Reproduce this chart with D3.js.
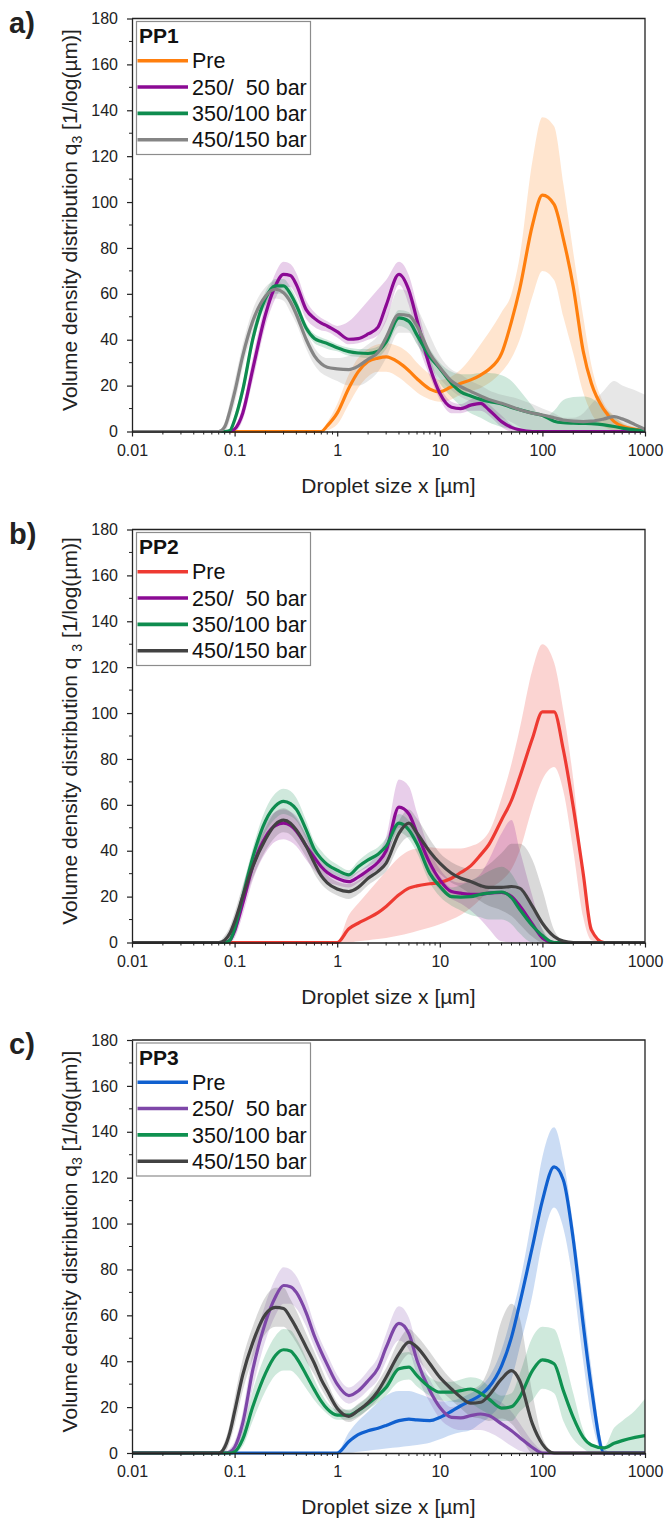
<!DOCTYPE html>
<html><head><meta charset="utf-8">
<script src="https://cdn.jsdelivr.net/npm/d3@7"></script>
<style>
html,body{margin:0;padding:0;background:#fff}
svg{display:block}
text{font-family:"Liberation Sans",Arial,Helvetica,sans-serif}
</style>
</head><body>
<svg id="c" width="667" height="1519"></svg>
<script>
// ---------- DATA ----------
// droplet size grid [µm]
const X = [0.01,0.07,0.08,0.09,0.1,0.12,0.15,0.2,0.25,0.3,0.35,0.4,0.5,0.6,0.7,0.8, 1,1.3,1.6,2,2.5,3,4,5,6,8, 10,13,16,20,25,30,40,50,60,80, 100,130,160,200,250,300,400,500,600,800,1000];

const seriesNames = ["Pre","250/  50 bar","350/100 bar","450/150 bar"];
const legendTitles = ["PP1","PP2","PP3"];
const panelLabels = ["a)","b)","c)"];
const xTickValues = [0.01,0.1,1,10,100,1000];
const xTickLabels = ["0.01","0.1","1","10","100","1000"];
const yTickValues = [0,20,40,60,80,100,120,140,160,180];
const yTickLabels = ["0","20","40","60","80","100","120","140","160","180"];

// Panel a (PP1)
const aPre   = [0,0,0,0,0,0,0,0,0,0,0,0,0,0,0,2.5, 8,19,26,30.5,32,32.5,30,26.5,23,18.5, 17.3,19.5,21,22.5,24.6,27,34,48,62,90, 103,99,84,63,35,21,9.4,4.3,2.3,1,0.5];
const aPreLo = [0,0,0,0,0,0,0,0,0,0,0,0,0,0,0,0.5, 3,12,19,24,26,26,23.5,20,17,14, 13,14,16,17.5,19,21,26,32,40,59, 70,66,50,34,17,8,2,0.5,0,0,0];
const aPreHi = [0,0,0,0,0,0,0,0,0,0,0,0,0,0,0.5,4, 12,25,32,36,38,38.5,37,34,30,25, 22.5,24,27,32,38,43,52,60,76,118, 137,133,108,78,50,29,12,7,4,2,1];
const a250   = [0,0,0,0,1,8,27,51,63.5,68.5,68,64,53,49.3,47.2,46, 43.5,40.2,40.5,42.5,45.5,55,68.5,61.5,48.5,28, 16.7,10.6,10,11.5,12.3,9.5,4.3,1.8,0.7,0, 0,0,0,0,0,0,0,0,0,0,0];
const a250Lo = [0,0,0,0,0,5,22,46,58,63,63,59,49,45.5,44,43.5, 41,38,38.5,40,42,48,64,55,40,24, 14,8,8,9,9,7,2,0,0,0, 0,0,0,0,0,0,0,0,0,0,0];
const a250Hi = [0,0,0,0,2,11,32,56,69,74,73,69,57,52,49.5,48, 46,48,52,57,62,66,74,68,55,33, 20,13,12,14,15,12,7,3,1,0, 0,0,0,0,0,0,0,0,0,0,0];
const a350   = [0,0,0,0.5,5,18,40,58,63.5,63.5,60,55,45,40.5,39.2,38.4, 36.5,34.8,34.2,34,35,39,49.5,48,42,32.6, 27.5,21,17.3,15.5,14,13.1,12,10.5,9.5,8, 7,4.5,3.8,3.6,3.5,3.4,2.9,2.2,1.5,0.7,0.3];
const a350Lo = [0,0,0,0,3,15,37,55,60,60,57,52,43,38.5,37,36, 35,33,32.5,32,32.5,36,46,44,38,29, 21,15,11,8,6,4,2,1,0,0, 0,0,0,0,0,0,0,0,0,0,0];
const a350Hi = [0,0,0,1,7,21,43,61,66.5,66.5,63,58,47,42.5,41,40, 38,36.5,36,36,37,42,53,52,46,36, 30,26,25,25,25.5,25.5,24.5,22,18,11, 6,9,13.7,15,15.3,14.5,10,6.5,3.5,1.5,0.5];
const a450   = [0,0,2,9,17,33,48,59,62,60.5,56.5,51,40,33,29.5,28, 27.3,27,28.5,31.5,34.5,41,51,50.5,46,34, 28,22,19.5,17.5,15.5,14,12.3,10.8,9.5,8, 7.2,6,5,4.5,4.3,4.5,5.5,6.5,5.5,3,1];
const a450Lo = [0,0,0,5,12,28,43,55,58,57,52,47,36,29,25.5,24, 22,20,20,22,26,32,43,43,38,29, 23,18,15,13,11,9,6,4,2,0, 0,0,0,0,0,0,0,0,0,0,0];
const a450Hi = [0,0.5,4,13,22,38,53,63,65.5,64,60,55,44,36.5,33,32, 32,33,35,38,42,49,62,61,54,42, 33,27,25,22,20,18,16,15,14,12, 10,8,6,6,8,12,18,22,20,18,16];

// Panel b (PP2)
const bPre   = [0,0,0,0,0,0,0,0,0,0,0,0,0,0,0,0, 0,6,8.4,10.6,13,15.7,20.8,23.7,24.7,25.6, 26.1,28,30.5,33.4,38.2,42.6,53.4,62,72,89, 100.5,100.5,84,59,30,5.5,0,0,0,0,0];
const bPreLo = [0,0,0,0,0,0,0,0,0,0,0,0,0,0,0,0, 0,0,0.5,1,1.5,2,3,4,5,6.5, 8,10,12,15,19,23,27,32,40,59, 71,76.5,66,40,11,1,0,0,0,0,0];
const bPreHi = [0,0,0,0,0,0,0,0,0,0,0,0,0,0,0,0, 0.5,12,17,22,27,31,37,40,41,41.5, 41,41,41,42,44,48,63,78,93,119, 130,122,101,71,30,8,0,0,0,0,0];
const b250   = [0,0,0,1,5,17,33,46,51,52,51,48.5,42,37,33,30.5, 28,26.5,28.5,31.5,35,40,59,56,47.6,34.6, 27.3,22.2,21.5,21,21,21.5,21.8,20,16,8, 2,0,0,0,0,0,0,0,0,0,0];
const b250Lo = [0,0,0,0,2,12,27,39,44,45,44,42,36,31.5,28.5,26.5, 25,24,26,29,32,36,50,50,42,29, 23,19,17,14,10,6,0.5,0,0,0, 0,0,0,0,0,0,0,0,0,0,0];
const b250Hi = [0,0,0.5,2.5,8,21,38,52,57,58,57,55,47,41,36,33.5, 30.5,29,31,34,39,46,71,68,56.5,40, 32,27,26,27,30,36,47.6,53.4,40.4,20, 5.5,0,0,0,0,0,0,0,0,0,0];
const b350   = [0,0,0,1,6,20,37,53,59.5,61.5,60.5,58,49,40.5,36.5,34, 31.5,29.5,33,36,38.5,42,52,49,43,30, 24.5,20,19.8,20,21,21.5,22,19.5,14.5,7.3, 3,0,0,0,0,0,0,0,0,0,0];
const b350Lo = [0,0,0,0,3,16,33,48,54,56,55,53,45,37,33.5,31, 29,27.5,30.5,33,35.5,38.5,48,45,39,26, 20,16,14,12,11,10,10,8,4,0, 0,0,0,0,0,0,0,0,0,0,0];
const b350Hi = [0,0,0.5,3,9,24,41,58,65,67,66,63,53,44,40,37, 34,31.5,35.5,39,41.5,45.5,56,53,47,34, 29,24,25,27,29,31,33,30,24,15, 6,0,0,0,0,0,0,0,0,0,0];
const b450   = [0,0,1,4,9,20,33,45,51.5,53.3,52,49,41.8,34.6,29,26, 23.3,22.2,24,28,31,34.6,47.6,52,47.6,39.6, 34.6,30.2,28,26.6,24.8,24,24,24.4,23.7,15.7, 8.4,2.6,0.6,0,0,0,0,0,0,0,0];
const b450Lo = [0,0,0,2,6,16,28,40,46,48,47,44,37,30,25.5,23, 20.5,19,21,25,28,31,42,46,42,34, 30,26,24,21,18,16,14,11.5,8,2.5, 0,0,0,0,0,0,0,0,0,0,0];
const b450Hi = [0,0.5,3,7,13,25,38,50,57,58.5,57,54,46.5,39,33,29.5, 26.5,25.5,27,31,34,38.5,53,58,54,45, 39,35,33,32,32,34,39,43,43,36, 23,5.5,1,0,0,0,0,0,0,0,0];

// Panel c (PP3)
const cPre   = [0,0,0,0,0,0,0,0,0,0,0,0,0,0,0,0, 0,5,8,9.7,10.8,12,14.1,14.8,14.4,14.1, 15.5,18.2,20.6,22.8,25.3,28.6,38,50.5,65,90, 110,124.7,119,93,56,28.6,0,0,0,0,0];
const cPreLo = [0,0,0,0,0,0,0,0,0,0,0,0,0,0,0,0, 0,0,0.5,1,1.5,2,2.5,3,3.5,4.5, 6,8,9,10,13,15.5,22,32,46,69, 92,107,98,74,40,15.5,0,0,0,0,0];
const cPreHi = [0,0,0,0,0,0,0,0,0,0,0,0,0,0,0,0, 0.5,9,14,18,22,25,27,27,26,24, 22.5,22.8,24,26,29,33,45,60,74,104, 129,142,128,99,66,37,2,0,0,0,0];
const c250   = [0,0,0,0.5,2.5,13,36,57,68,73,72.5,70,61,51,44,38.5, 30,25,27,31.5,37,46,56.5,52,40.3,27.2, 19.9,15.5,15.3,16.3,17,16.3,12.7,9.7,6.8,2.4, 0,0,0,0,0,0,0,0,0,0,0];
const c250Lo = [0,0,0,0,0.5,8,28,49,60,65,65,63,55,46,39.5,34, 26,21.5,23.5,27.5,32,40,49,45,34,22, 15,11,10,10,10,9,6,3,1,0, 0,0,0,0,0,0,0,0,0,0,0];
const c250Hi = [0,0,0.5,2,5,18,44,65,76,81,80,77,67,56,48.5,43, 34,28.5,31,36,42,52,64,59,46,32, 25,20,21,23,24,24,22,18,13,5, 1,0,0,0,0,0,0,0,0,0,0];
const c350   = [0,0,0,0,0.5,6,20,34.7,42.5,45,44.5,41.5,34,27.5,22.5,19.2, 16.5,16.5,18.5,21.5,25,28.6,36.7,37.4,33.7,28.6, 26.5,26.5,27.2,27.9,26,23.6,19.6,20.2,24.3,35.9, 40.6,38.9,27.2,15.5,6.8,3.5,2.2,4.2,5.4,6.8,7.6];
const c350Lo = [0,0,0,0,0,3,14,27,34,36,36,34,28,23,19.5,17, 14.5,14.5,16,19,22,25,31,32,29,25, 23,22.5,22,21.5,19,17,14,14,18,23, 28,26,14,6,2,0,0,0,0,0,0];
const c350Hi = [0,0,0,0.5,2,10,27,43,51,54,53.5,50,41,32,26,22, 19,19,21,24.5,28.5,33,43,44,39,33, 31,31,32,33,32,29,25,26,34.5,50.5, 55,54,43,26,10,3,3,11,14,18.5,23.6];
const c450   = [0,0,2.5,9,18,34,48,60.5,63.5,63,59,54.5,46,39,32,27.2, 19.5,16,18.5,22,27,33,43.2,48.3,46.1,38.9, 33,27.9,24.3,21.7,22.1,25,32.3,35.9,31.6,12.7, 3.9,0,0,0,0,0,0,0,0,0,0];
const c450Lo = [0,0,0,5,12,27,41,52,55,55,52,48,40,34,28,23.5, 17,13.5,15.5,19,23.5,29,38,43,41,34, 28,23,19.5,16,15,14,15,12.7,8.3,0, 0,0,0,0,0,0,0,0,0,0,0];
const c450Hi = [0,0.5,5,13,24,41,55,68,72,72,67,62,52,44,37,31, 22,18.5,21.5,25,31,37,49,54,51,44, 38,32,29,28,30,37,57.8,65,59,25.8, 6.8,0.5,0,0,0,0,0,0,0,0,0];

// ---------- LAYOUT / STYLE ----------
const L = 132, R = 645, PH = 413;
const tops = [18.5, 529.5, 1040];
const panelColors = [
  ["#FF7F0E","#8B0A94","#0E8C4F","#858585"],
  ["#EE3A32","#8B0A94","#0E8C4F","#424242"],
  ["#1060CF","#7E47A8","#0F9150","#424242"]
];
const panelData = [
  [[aPre,aPreLo,aPreHi],[a250,a250Lo,a250Hi],[a350,a350Lo,a350Hi],[a450,a450Lo,a450Hi]],
  [[bPre,bPreLo,bPreHi],[b250,b250Lo,b250Hi],[b350,b350Lo,b350Hi],[b450,b450Lo,b450Hi]],
  [[cPre,cPreLo,cPreHi],[c250,c250Lo,c250Hi],[c350,c350Lo,c350Hi],[c450,c450Lo,c450Hi]]
];

const svg = d3.select("#c");
const defs = svg.append("defs");
const x = d3.scaleLog().domain([0.01,1000]).range([L,R]);
const AX = "#222";

const xMinor = [];
for (let e=-2;e<3;e++) for (let m=2;m<10;m++) xMinor.push(m*Math.pow(10,e));
const yMinor = [10,30,50,70,90,110,130,150,170];

panelData.forEach((series,k)=>{
  const top = tops[k], bottom = top+PH;
  const y = d3.scaleLinear().domain([0,180]).range([bottom,top]);
  const g = svg.append("g");
  const cid = "clip"+k;
  defs.append("clipPath").attr("id",cid).append("rect")
    .attr("x",L).attr("y",top).attr("width",R-L).attr("height",PH+2.5);
  const plot = g.append("g").attr("clip-path",`url(#${cid})`);

  const area = d3.area().x((d,i)=>x(X[i])).y0(d=>y(d[0])).y1(d=>y(d[1])).curve(d3.curveMonotoneX);
  const line = d3.line().x((d,i)=>x(X[i])).y(d=>y(d)).curve(d3.curveMonotoneX);

  series.forEach((s,j)=>{
    plot.append("path").datum(s[1].map((lo,i)=>[lo,s[2][i]]))
      .attr("d",area).attr("fill",panelColors[k][j]).attr("fill-opacity",j===0&&k>0?0.22:0.2);
  });
  series.forEach((s,j)=>{
    plot.append("path").datum(s[0]).attr("d",line).attr("fill","none")
      .attr("stroke",panelColors[k][j]).attr("stroke-width",3.2)
      .attr("stroke-linejoin","round").attr("stroke-linecap","round");
  });

  // frame (top & right)
  g.append("path").attr("d",`M${L},${top}H${R}V${bottom}`).attr("fill","none")
    .attr("stroke",AX).attr("stroke-width",1.3);

  // x axis
  const xa = g.append("g").attr("transform",`translate(0,${bottom})`)
    .call(d3.axisBottom(x).tickValues(xTickValues).tickFormat((d,i)=>xTickLabels[i])
      .tickSize(5).tickPadding(8).tickSizeOuter(0));
  xa.selectAll("line").attr("stroke",AX).attr("stroke-width",1.2);
  xa.select(".domain").attr("stroke",AX).attr("stroke-width",1.3);
  xa.selectAll("text").attr("font-size",16).attr("fill",AX).attr("font-family",null);
  g.append("g").selectAll("line").data(xMinor).join("line")
    .attr("x1",d=>x(d)).attr("x2",d=>x(d)).attr("y1",bottom).attr("y2",bottom+3)
    .attr("stroke",AX).attr("stroke-width",1);

  // y axis
  const ya = g.append("g").attr("transform",`translate(${L},0)`)
    .call(d3.axisLeft(y).tickValues(yTickValues).tickFormat((d,i)=>yTickLabels[i])
      .tickSize(5).tickPadding(9).tickSizeOuter(0));
  ya.selectAll("line").attr("stroke",AX).attr("stroke-width",1.2);
  ya.select(".domain").attr("stroke",AX).attr("stroke-width",1.3);
  ya.selectAll("text").attr("font-size",16).attr("fill",AX).attr("font-family",null);
  g.append("g").selectAll("line").data(yMinor).join("line")
    .attr("x1",L-3).attr("x2",L).attr("y1",d=>y(d)).attr("y2",d=>y(d))
    .attr("stroke",AX).attr("stroke-width",1);

  // axis titles
  g.append("text").attr("x",(L+R)/2).attr("y",bottom+61).attr("text-anchor","middle")
    .attr("font-size",21).attr("fill",AX).text("Droplet size x [\u00B5m]");
  const yt = g.append("text").attr("transform",`translate(77,${(top+bottom)/2-5}) rotate(-90)`)
    .attr("text-anchor","middle").attr("font-size",21).attr("fill",AX);
  yt.append("tspan").text(k===1 ? "Volume density distribution q " : "Volume density distribution q");
  yt.append("tspan").attr("font-size",14).attr("dy",5).text("3");
  yt.append("tspan").attr("dy",-5).text(" [1/log(\u00B5m)]");

  // panel label
  g.append("text").attr("x",9).attr("y",top+14).attr("font-size",29).attr("font-weight","bold")
    .attr("fill",AX).text(panelLabels[k]);

  // legend
  const lg = g.append("g");
  lg.append("rect").attr("x",136.5).attr("y",top+3).attr("width",174).attr("height",133)
    .attr("fill","#fff").attr("stroke","#8c8c8c").attr("stroke-width",1.2);
  lg.append("text").attr("x",139).attr("y",top+24.5).attr("font-size",21).attr("font-weight","bold")
    .attr("fill","#111").text(legendTitles[k]);
  seriesNames.forEach((n,j)=>{
    const yy = top+42.2+j*26.35;
    lg.append("line").attr("x1",137.5).attr("x2",188).attr("y1",yy).attr("y2",yy)
      .attr("stroke",panelColors[k][j]).attr("stroke-width",3.6);
    lg.append("text").attr("x",192).attr("y",yy).attr("dy","0.36em").attr("font-size",21.5)
      .attr("fill","#111").style("white-space","pre").text(n);
  });
});
</script>
</body></html>
